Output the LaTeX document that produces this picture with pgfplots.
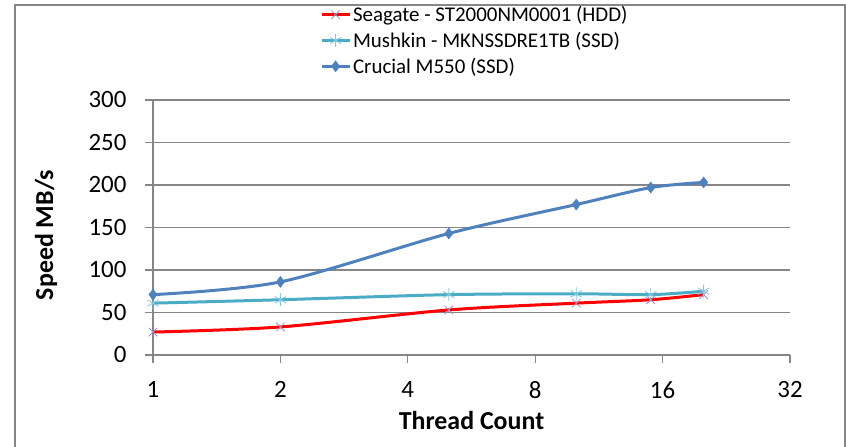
\documentclass[border=0pt]{standalone}
\usepackage{fontspec}
\setmainfont{Carlito}
\usepackage{pgfplots}
\pgfplotsset{compat=1.18}
\definecolor{gridgray}{RGB}{134,134,134}
\definecolor{seared}{RGB}{255,0,0}
\definecolor{seamark}{RGB}{165,140,195}
\definecolor{mushline}{RGB}{75,172,198}
\definecolor{mushmark}{RGB}{130,200,222}
\definecolor{cruc}{RGB}{79,129,189}
\begin{document}
\begin{tikzpicture}[x=1bp,y=1bp]
\useasboundingbox (-153,-92) rectangle (693,355);
\draw[gridgray, line width=1.2bp] (-138,-100) -- (-138,350) -- (692,350) -- (692,-100);
\begin{axis}[
  at={(0,0)}, anchor=south west,
  width=637bp, height=255bp, scale only axis,
  xmode=log, log basis x=2, xmin=1, xmax=32,
  ymin=0, ymax=300, ytick={0,50,100,150,200,250,300},
  xtick={1,2,4,8,16,32}, xticklabels={1,2,4,8,16,32},
  axis x line*=bottom, axis y line*=left,
  axis line style={-, gridgray, line width=1.2bp},
  ymajorgrids, major grid style={gridgray, line width=1.2bp},
  tick align=outside, major tick length=8bp,
  tick style={gridgray, line width=1.2bp},
  /pgf/number format/assume math mode=true,
  ticklabel style={font=\fontsize{25}{30}\selectfont, black},
  xticklabel style={yshift=-15bp},
  yticklabel style={xshift=-15bp},
  xlabel={Thread Count}, ylabel={Speed MB/s},
  label style={font=\bfseries\fontsize{26}{30}\selectfont},
  xlabel style={at={(axis description cs:0.5,-0.255)}, anchor=center},
  ylabel style={at={(axis description cs:-0.168,0.47)}, anchor=center},
  clip=false,
  legend cell align=left,
  legend style={draw=none, fill=none, at={(axis description cs:0.262,1.376)}, anchor=north west,
    font=\fontsize{21}{24}\selectfont, inner sep=0pt, row sep=5bp},
  legend image code/.code={\draw[mark repeat=2,mark phase=2,#1] plot coordinates {(0bp,0bp)(14bp,0bp)(28bp,0bp)};},
]
\addplot[seared, line width=3bp, smooth, mark=x, mark size=6bp, mark options={seamark, line width=0.8bp}]
  coordinates {(1,27) (2,33) (5,53) (10,61) (15,65) (20,71)};
\addlegendentry{Seagate - ST2000NM0001 (HDD)}
\addplot[mushline, line width=3bp, smooth, mark=asterisk, mark size=6.5bp, mark options={mushmark, line width=0.8bp}]
  coordinates {(1,61) (2,65) (5,71) (10,72) (15,71) (20,75)};
\addlegendentry{Mushkin - MKNSSDRE1TB (SSD)}
\addplot[cruc, line width=3bp, smooth, mark=diamond*, mark size=5.5bp, mark options={cruc, line width=0.5bp}]
  coordinates {(1,71) (2,86) (5,143) (10,177) (15,197) (20,203)};
\addlegendentry{Crucial M550 (SSD)}
\end{axis}
\end{tikzpicture}
\end{document}
